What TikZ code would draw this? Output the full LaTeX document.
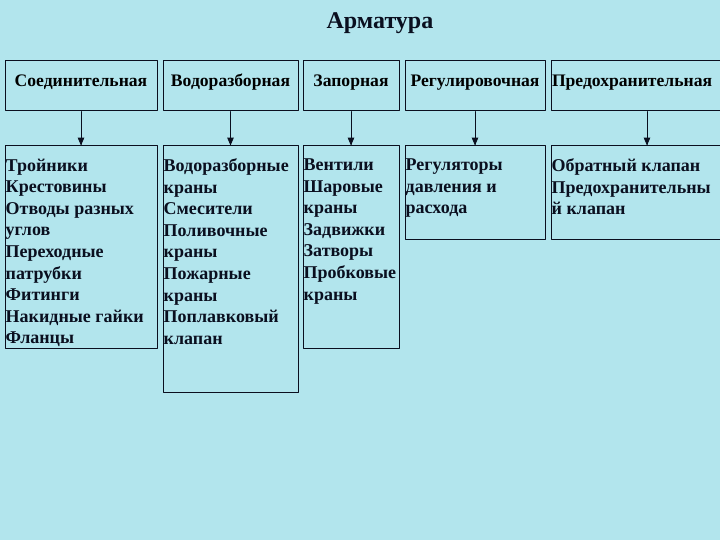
\documentclass[tikz,border=0pt]{standalone}
\usepackage{fontspec}
\setmainfont{Liberation Serif}
\usepackage{tikz}
\usetikzlibrary{arrows}
\definecolor{bgcyan}{rgb}{0.70,0.90,0.93}
\definecolor{qqline}{rgb}{0.04,0.06,0.12}

\begin{document}
\begin{tikzpicture}[line cap=round,line join=round,>=triangle 45,x=1pt,y=-1pt,
  kind/.style={draw=qqline,line width=1pt,inner sep=0pt,minimum height=50pt,
    text height=12pt,text depth=10pt,font=\bfseries\fontsize{17.6}{20}\selectfont},
  group/.style={draw=qqline,line width=1pt,inner sep=0pt},
  items/.style={anchor=north west,align=left,inner sep=0pt,text=qqline,
    font=\bfseries\fontsize{18}{21.6}\selectfont}]
\useasboundingbox (0,0) rectangle (720,540);
\fill[bgcyan] (0,0) rectangle (720,540);
\clip (0,0) rectangle (720,540);

\node[text=qqline,font=\bfseries\fontsize{24}{28}\selectfont] (title) at (380,23) {Арматура};

% kinds of fittings
\node[kind,minimum width=152pt] (kconn) at (81,86) {Соединительная};
\node[kind,minimum width=135pt] (kdraw) at (230.5,86) {Водоразборная};
\node[kind,minimum width=96pt] (kshut) at (351,86) {Запорная};
\node[kind,minimum width=140pt] (kreg) at (475,86) {Регулировочная};
\node[kind,minimum width=192pt,text width=190pt,align=left] (ksafe) at (647,86) {Предохранительная};

% groups
\node[group,minimum width=152pt,minimum height=202pt] (gconn) at (81,247) {};
\node[group,minimum width=135pt,minimum height=246pt] (gdraw) at (230.5,269) {};
\node[group,minimum width=96pt,minimum height=202pt] (gshut) at (351,247) {};
\node[group,minimum width=140pt,minimum height=93pt] (greg) at (475,192.5) {};
\node[group,minimum width=192pt,minimum height=93pt] (gsafe) at (647,192.5) {};

\node[items] (tconn) at ([xshift=1pt,yshift=-13pt]gconn.north west) {Тройники\\Крестовины\\Отводы разных\\углов\\Переходные\\патрубки\\Фитинги\\Накидные гайки\\Фланцы};
\node[items] (tdraw) at ([xshift=1pt,yshift=-13pt]gdraw.north west) {Водоразборные\\краны\\Смесители\\Поливочные\\краны\\Пожарные\\краны\\Поплавковый\\клапан};
\node[items] (tshut) at ([xshift=1pt,yshift=-13pt]gshut.north west) {Вентили\\Шаровые\\краны\\Задвижки\\Затворы\\Пробковые\\краны};
\node[items] (treg) at ([xshift=1pt,yshift=-13pt]greg.north west) {Регуляторы\\давления и\\расхода};
\node[items] (tsafe) at ([xshift=1pt,yshift=-13pt]gsafe.north west) {Обратный клапан\\Предохранительны\\й клапан};

\foreach \k/\g in {kconn/gconn,kdraw/gdraw,kshut/gshut,kreg/greg,ksafe/gsafe}
  \draw[->,draw=qqline,line width=0.8pt] (\k.south) -- (\g.north);

\end{tikzpicture}
\end{document}
